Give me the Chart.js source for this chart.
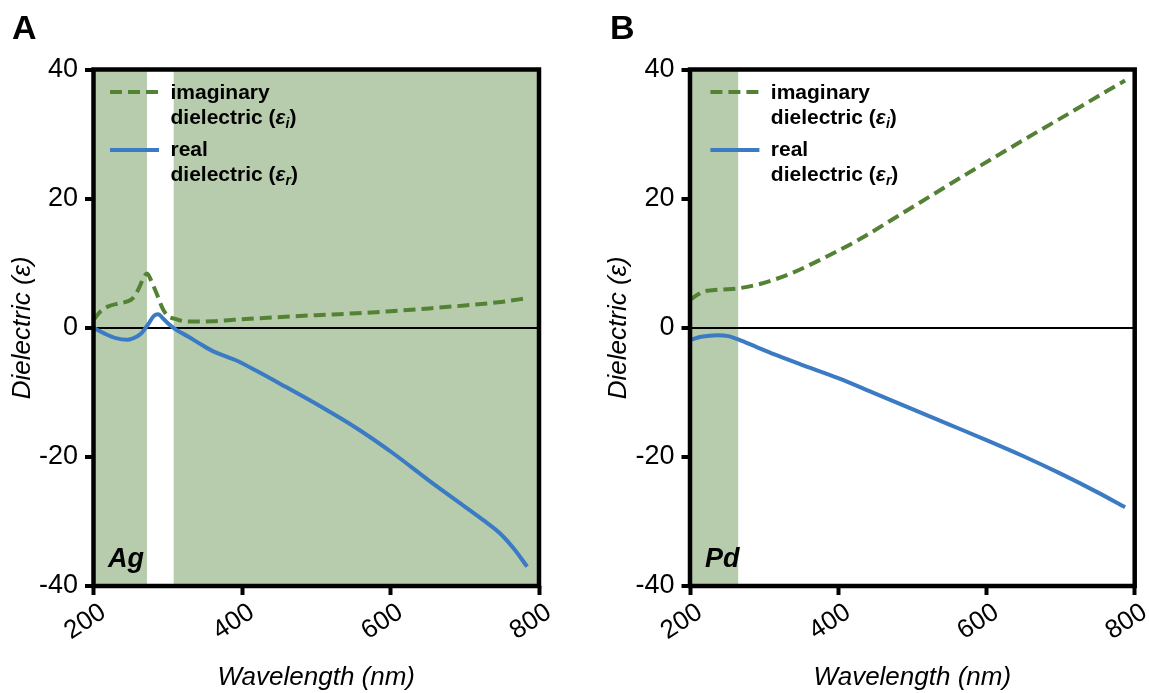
<!DOCTYPE html>
<html>
<head>
<meta charset="utf-8">
<script src="https://cdn.jsdelivr.net/npm/chart.js@4.4.1/dist/chart.umd.min.js"></script>
<style>
html, body { margin: 0; padding: 0; background: #fff; }
body { width: 1149px; height: 693px; position: relative; overflow: hidden; }
.panel { position: absolute; top: 0; }
#panelA { left: 0; }
#panelB { left: 575px; }
</style>
</head>
<body>
<div class="panel" id="panelA"><canvas id="chartA" width="575" height="693"></canvas></div>
<div class="panel" id="panelB"><canvas id="chartB" width="574" height="693"></canvas></div>
<script>
// data (wavelength in nm, dielectric value)
const agImagWl = [200, 210, 220, 235, 250, 256, 261, 267, 272, 278, 285, 293, 300, 309, 320, 335, 360, 386, 420, 458, 500, 555, 600, 652, 700, 749, 785];
const agImag   = [1.2, 2.6, 3.3, 3.8, 4.3, 5.0, 6.1, 7.6, 8.4, 7.2, 5.3, 3.0, 1.8, 1.4, 1.05, 0.95, 1.0, 1.2, 1.45, 1.7, 1.95, 2.25, 2.55, 3.0, 3.45, 4.0, 4.6];

const agRealWl = [200, 215, 230, 246, 258, 265, 274, 281, 287, 294, 302, 310, 328, 345, 362, 380, 391, 420, 458, 506, 555, 603, 651, 700, 725, 748, 766, 784];
const agReal   = [0, -0.9, -1.6, -1.85, -1.4, -0.8, 0.6, 1.8, 2.1, 1.4, 0.5, -0.2, -1.4, -2.6, -3.7, -4.5, -5.0, -6.7, -9.1, -12.2, -15.6, -19.4, -23.6, -27.7, -29.8, -31.9, -34.2, -37];

const pdImagWl = [200, 210, 218, 240, 265, 298, 336, 384, 431, 479, 526, 573, 621, 668, 716, 763, 787];
const pdImag   = [4.3, 5.1, 5.6, 5.9, 6.1, 6.9, 8.4, 11.0, 13.85, 17.2, 20.5, 23.8, 27.1, 30.3, 33.5, 36.7, 38.3];

const pdRealWl = [200, 215, 237, 252, 265, 290, 313, 350, 400, 450, 500, 550, 600, 650, 700, 750, 787];
const pdReal   = [-1.9, -1.4, -1.15, -1.3, -1.8, -3.0, -4.1, -5.7, -7.8, -10.2, -12.6, -15.0, -17.4, -19.9, -22.6, -25.5, -27.8];

// shaded wavelength ranges
const agBands = [[200, 272], [308, 800]];
const pdBands = [[200, 265]];

const xTicks = [200, 400, 600, 800];
const yTicks = [-40, -20, 0, 20, 40];

const imagColor = '#548235';
const realColor = '#3a7bc4';
const shadeColor = '#b7cbad';
const FONT = "'Liberation Sans', Arial, sans-serif";

Chart.defaults.font.family = FONT;
Chart.defaults.color = '#000';

function pts(xs, ys) {
    return xs.map((v, i) => ({ x: v, y: ys[i] }));
}

function drawParts(ctx, x, y, parts) {
    parts.forEach(p => {
        ctx.font = p.font;
        ctx.fillText(p.t, x, y + (p.dy || 0));
        x += ctx.measureText(p.t).width;
    });
}

const panelPlugin = {
    id: 'panelDecor',
    beforeDraw(chart, args, o) {
        const { ctx, chartArea: a, scales: { x } } = chart;
        ctx.save();
        ctx.fillStyle = shadeColor;
        o.bands.forEach(([s, e]) => {
            const x0 = x.getPixelForValue(s);
            const x1 = x.getPixelForValue(e);
            ctx.fillRect(x0, a.top, x1 - x0, a.bottom - a.top);
        });
        ctx.restore();
    },
    afterDraw(chart, args, o) {
        const { ctx, chartArea: a } = chart;
        ctx.save();
        // frame
        ctx.strokeStyle = '#000';
        ctx.lineWidth = 4.5;
        ctx.strokeRect(a.left, a.top, a.right - a.left, a.bottom - a.top);

        // legend
        const lx0 = a.left + o.lineX, lx1 = lx0 + 49, tx = a.left + o.textX;
        ctx.lineWidth = 4;
        ctx.strokeStyle = imagColor;
        ctx.setLineDash([12, 6]);
        ctx.beginPath(); ctx.moveTo(lx0, 92); ctx.lineTo(lx1, 92); ctx.stroke();
        ctx.setLineDash([]);
        ctx.strokeStyle = realColor;
        ctx.beginPath(); ctx.moveTo(lx0, 150); ctx.lineTo(lx1, 150); ctx.stroke();

        ctx.fillStyle = '#000';
        ctx.textBaseline = 'alphabetic';
        ctx.textAlign = 'left';
        const b = 'bold 21px ' + FONT;
        const bi = 'italic bold 21px ' + FONT;
        const sub = 'italic bold 14px ' + FONT;
        drawParts(ctx, tx, 98.5, [{ t: 'imaginary', font: b }]);
        drawParts(ctx, tx, 124, [{ t: 'dielectric (', font: b }, { t: 'ε', font: bi }, { t: 'i', font: sub, dy: 4 }, { t: ')', font: b }]);
        drawParts(ctx, tx, 156, [{ t: 'real', font: b }]);
        drawParts(ctx, tx, 181, [{ t: 'dielectric (', font: b }, { t: 'ε', font: bi }, { t: 'r', font: sub, dy: 4 }, { t: ')', font: b }]);

        // metal name
        ctx.font = 'italic bold 27px ' + FONT;
        ctx.fillText(o.metal, a.left + o.metalX, 567);

        // panel letter
        ctx.font = 'bold 34px ' + FONT;
        ctx.fillText(o.letter, o.letterX, 39);
        ctx.restore();
    }
};

function makeChart(id, c) {
    return new Chart(document.getElementById(id), {
        type: 'line',
        data: {
            datasets: [
                {
                    label: 'real dielectric (εr)',
                    data: pts(c.realWl, c.real),
                    borderColor: realColor,
                    borderWidth: 4,
                    cubicInterpolationMode: 'monotone',
                    pointRadius: 0,
                    fill: false
                },
                {
                    label: 'imaginary dielectric (εi)',
                    data: pts(c.imagWl, c.imag),
                    borderColor: imagColor,
                    borderWidth: 4,
                    borderDash: [12, 6],
                    cubicInterpolationMode: 'monotone',
                    pointRadius: 0,
                    fill: false
                }
            ]
        },
        options: {
            responsive: false,
            animation: false,
            layout: { padding: { top: 69.5, right: c.padRight, bottom: 0, left: 0 } },
            plugins: {
                legend: { display: false },
                tooltip: { enabled: false },
                panelDecor: c.decor
            },
            scales: {
                x: {
                    type: 'linear',
                    min: 200,
                    max: 800,
                    afterBuildTicks: s => { s.ticks = xTicks.map(v => ({ value: v })); },
                    ticks: { minRotation: 33, maxRotation: 33, font: { size: 26 }, color: '#000', padding: 2, labelOffset: 10 },
                    grid: { drawOnChartArea: false, tickLength: 9, tickWidth: 4, tickColor: '#000', color: '#000' },
                    border: { display: false },
                    title: {
                        display: true,
                        text: 'Wavelength (nm)',
                        font: { size: 26, style: 'italic' },
                        color: '#000',
                        padding: { top: 0, bottom: 0 }
                    },
                    afterFit(s) { s.height = 107; s.paddingLeft = 0; s.paddingRight = 0; }
                },
                y: {
                    min: -40,
                    max: 40,
                    afterBuildTicks: s => { s.ticks = yTicks.map(v => ({ value: v })); },
                    ticks: { font: { size: 27 }, color: '#000', padding: 7 },
                    grid: {
                        color: ctx => (ctx.tick && ctx.tick.value === 0) ? '#000' : 'rgba(0,0,0,0)',
                        lineWidth: 2,
                        tickLength: 8.5,
                        tickWidth: 4,
                        tickColor: '#000'
                    },
                    border: { display: false },
                    title: {
                        display: true,
                        text: 'Dielectric (ε)',
                        font: { size: 26, style: 'italic' },
                        color: '#000',
                        padding: { top: c.yTitlePad, bottom: 0 }
                    },
                    afterFit(s) { s.width = c.yWidth; s.paddingTop = 0; s.paddingBottom = 0; }
                }
            }
        },
        plugins: [panelPlugin]
    });
}

makeChart('chartA', {
    imagWl: agImagWl, imag: agImag, realWl: agRealWl, real: agReal,
    yWidth: 93.5, padRight: 36, yTitlePad: 7.4,
    decor: { bands: agBands, lineX: 16.5, textX: 77, metal: 'Ag', metalX: 14.5, letter: 'A', letterX: 12 }
});

makeChart('chartB', {
    imagWl: pdImagWl, imag: pdImag, realWl: pdRealWl, real: pdReal,
    yWidth: 115, padRight: 14.3, yTitlePad: 28.4,
    decor: { bands: pdBands, lineX: 20.4, textX: 80.8, metal: 'Pd', metalX: 15, letter: 'B', letterX: 35 }
});
</script>
</body>
</html>
